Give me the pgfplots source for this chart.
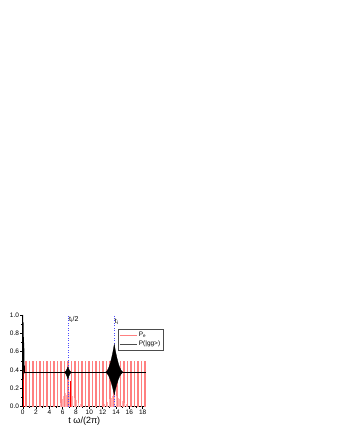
\documentclass[border=0pt]{standalone}
\usepackage{fontspec}
\setmainfont{Liberation Sans}
\usepackage{pgfplots}
\pgfplotsset{compat=1.18}
\definecolor{pe}{rgb}{1,0.5,0.5}
\begin{document}
\begin{tikzpicture}[x=1pt,y=1pt]
\fill[white] (0,0) rectangle (337,436);
\path[use as bounding box] (0,0) rectangle (337,436);
\begin{axis}[
  at={(22.7pt,29.3pt)}, anchor=south west,
  scale only axis, width=123.3pt, height=91.7pt,
  xmin=0, xmax=18.5, ymin=0, ymax=1.0,
  axis x line*=bottom, axis y line*=left,
  axis line style={line width=0.5pt},
  xtick={0,2,...,18}, minor x tick num=1,
  ytick={0,0.2,0.4,0.6,0.8,1.0}, minor y tick num=1,
  tick align=outside, major tick length=2.5pt, minor tick length=1.5pt,
  tick style={black, line width=0.4pt},
  /pgf/number format/assume math mode=true,
  tick label style={font=\fontsize{6.5}{7}\selectfont},
  xticklabel style={inner sep=1pt},
  yticklabel style={inner sep=1pt, /pgf/number format/.cd, fixed, fixed zerofill, precision=1},
  xlabel={t ω/(2π)},
  xlabel style={font=\fontsize{9}{10}\selectfont, inner sep=0pt, yshift=-0.5pt},
  legend style={at={(0.773,0.847)}, anchor=north west,
    font=\fontsize{6.5}{7}\selectfont, draw=gray!60!black, line width=0.4pt,
    inner sep=1pt, row sep=-1.5pt, cells={anchor=west}},
]
% P_e fast oscillation (bars up to 0.5)
\addplot[ycomb, pe, line width=1.5pt,
  legend image code/.code={\draw[pe, line width=0.6pt] (0pt,0pt) -- (17pt,0pt);}]
  coordinates {
  (0.52,0.5)(1.045,0.5)(1.57,0.5)(2.095,0.5)(2.62,0.5)(3.145,0.5)(3.67,0.5)
  (4.195,0.5)(4.72,0.5)(5.245,0.5)(5.77,0.5)(6.295,0.5)(6.82,0.5)(7.345,0.5)
  (7.87,0.5)(8.395,0.5)(8.92,0.5)(9.445,0.5)(9.97,0.5)(10.495,0.5)(11.02,0.5)
  (11.545,0.5)(12.07,0.5)(12.595,0.5)(13.12,0.5)(13.645,0.5)(14.17,0.5)
  (14.695,0.5)(15.22,0.5)(15.745,0.5)(16.27,0.5)(16.795,0.5)(17.32,0.5)
  (17.845,0.5)(18.37,0.5)};
\addlegendentry{P$_\mathrm{e}$}
% low-level red haze near the revivals
\addplot[ycomb, pe!60, line width=0.5pt, forget plot] coordinates {
  (5.6,0.04)(5.9,0.08)(6.1,0.12)(6.4,0.15)(6.6,0.13)(7.0,0.16)(7.5,0.12)
  (7.7,0.10)(8.0,0.07)(8.3,0.04)(8.6,0.03)
  (12.3,0.03)(12.7,0.05)(13.0,0.08)(13.3,0.10)(13.5,0.12)(13.8,0.13)(14.0,0.12)
  (14.3,0.10)(14.5,0.08)(14.9,0.06)(15.3,0.04)(15.6,0.03)};
\addplot[ycomb, red, line width=0.7pt, forget plot] coordinates {(7.22,0.28)(0.08,0.75)};
% blue markers t_i/2, t_i
\addplot[blue!70, dotted, line width=0.45pt, forget plot] coordinates {(6.87,0)(6.87,1.0)};
\addplot[blue!70, dotted, line width=0.45pt, forget plot] coordinates {(13.74,0)(13.74,1.0)};
% P(|gg>) baseline
\addplot[black, line width=0.3pt,
  legend image code/.code={\draw[black!70, line width=0.4pt] (0pt,0pt) -- (17pt,0pt);}]
  coordinates {(0.25,0.375)(18.5,0.375)};
\addlegendentry{P(|gg>)}
% initial decay
\addplot[black, line width=0.6pt, forget plot] coordinates {
  (0.02,1.0)(0.06,0.30)(0.10,0.92)(0.14,0.40)(0.18,0.70)(0.22,0.36)(0.26,0.45)(0.30,0.375)};
% small revival
\addplot[black, fill=black, line width=0.3pt, forget plot] coordinates {
  (6.2,0.375)(6.345,0.379)(6.49,0.390)(6.635,0.409)(6.78,0.435)(6.925,0.409)
  (7.07,0.390)(7.215,0.379)(7.36,0.375)(7.215,0.370)(7.07,0.356)(6.925,0.333)
  (6.78,0.300)(6.635,0.333)(6.49,0.356)(6.345,0.370)} -- cycle;
% big revival
\addplot[black, fill=black, line width=0.3pt, forget plot] coordinates {
  (12.34,0.375)(12.54,0.381)(12.74,0.400)(12.94,0.431)(13.14,0.475)(13.34,0.531)
  (13.54,0.599)(13.74,0.680)(13.94,0.599)(14.14,0.531)(14.34,0.475)(14.54,0.431)
  (14.74,0.400)(14.94,0.381)(15.14,0.375)(14.94,0.370)(14.74,0.355)(14.54,0.330)
  (14.34,0.295)(14.14,0.250)(13.94,0.195)(13.74,0.130)(13.54,0.195)(13.34,0.250)
  (13.14,0.295)(12.94,0.330)(12.74,0.355)(12.54,0.370)} -- cycle;
\node[anchor=west, font=\fontsize{7}{8}\selectfont, inner sep=0.5pt] at (axis cs:6.87,0.955) {t$_\mathrm{i}$/2};
\node[anchor=west, font=\fontsize{7}{8}\selectfont, inner sep=0.5pt] at (axis cs:13.74,0.93) {t$_\mathrm{i}$};
\end{axis}
\end{tikzpicture}
\end{document}
